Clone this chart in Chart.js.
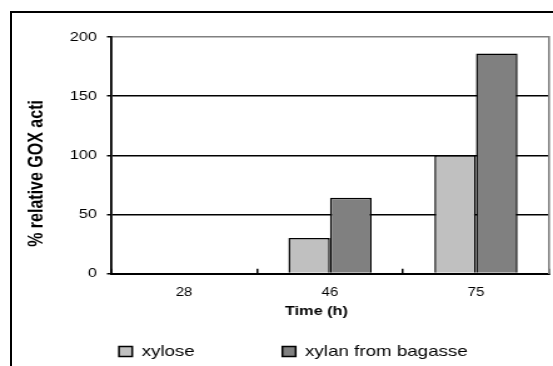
<!DOCTYPE html>
<html>
<head>
<meta charset="utf-8">
<script src="https://cdn.jsdelivr.net/npm/chart.js@4.4.1/dist/chart.umd.min.js"></script>
<style>
  html, body { margin: 0; padding: 0; width: 553px; height: 366px; overflow: hidden; background: #fff; }
  .frame { position: absolute; left: 10px; top: 11px; width: 600px; height: 400px;
           border-left: 2px solid #000; border-top: 2px solid #000; }
  .stretch { position: absolute; left: 0; top: 0; transform: scaleX(1.2511); transform-origin: 0 0; }
</style>
</head>
<body>
<div class="frame"></div>
<div class="stretch">
  <canvas id="myChart" width="470" height="366" style="width:470px;height:366px"></canvas>
</div>
<script>
var categories = ['28', '46', '75'];
var seriesNames = ['xylose', 'xylan from bagasse'];
var xylose = [0, 30, 100];
var xylan = [0, 64, 186];
var yTicks = [0, 50, 100, 150, 200];
var xTitle = 'Time (h)';
var yTitle = '% relative GOX acti';

var font = 'Liberation Sans, Arial, sans-serif';

var ctx = document.getElementById('myChart');
var myChart = new Chart(ctx, {
  type: 'bar',
  data: {
    labels: categories,
    datasets: [
      { label: seriesNames[0], data: xylose, backgroundColor: '#c0c0c0', borderColor: '#000', borderWidth: 1.5 },
      { label: seriesNames[1], data: xylan, backgroundColor: '#808080', borderColor: '#000', borderWidth: 1.5 }
    ]
  },
  options: {
    responsive: false,
    animation: false,
    devicePixelRatio: 1,
    categoryPercentage: 0.57,
    barPercentage: 1.0,
    layout: { padding: { left: 25.1, top: 37, right: 0, bottom: 0 } },
    plugins: {
      tooltip: { enabled: false },
      legend: {
        position: 'bottom',
        align: 'start',
        maxHeight: 92,
        labels: {
          color: '#000',
          font: { family: font, size: 15 },
          boxWidth: 10.6,
          boxHeight: 10,
          padding: 70
        }
      }
    },
    scales: {
      x: {
        grid: { offset: true, drawOnChartArea: false, color: '#000', lineWidth: 1.5, tickLength: -4.7 },
        border: { color: '#000', width: 2 },
        // mirror keeps the labels from being clipped to the thin axis box
        ticks: { color: '#000', font: { family: font, size: 12 }, padding: -26.5, mirror: true },
        title: { display: true, text: xTitle + '      ', color: '#000', font: { family: font, size: 13, weight: 'bold' },
                 padding: { top: 0, bottom: -45.3 } },
        afterFit: function(s) { s.height = 0.5; }
      },
      y: {
        min: 0,
        max: 200,
        afterBuildTicks: function(s) { s.ticks = yTicks.map(function(v) { return { value: v }; }); },
        grid: {
          color: function(c) { return c.tick && c.tick.value === 200 ? '#808080' : '#000'; },
          tickColor: '#000',
          lineWidth: 1.5,
          tickLength: 3.2
        },
        border: { color: '#000', width: 1.8 },
        ticks: { color: '#000', font: { family: font, size: 13 }, padding: 8 },
        title: { display: true, align: 'start', text: '      ' + yTitle, color: '#000',
                 font: { family: font, size: 16, weight: 'bold' }, padding: { top: -5, bottom: 0 } },
        afterFit: function(s) { s.width = 63.6; }
      },
      y2: {
        position: 'right',
        grid: { display: false },
        ticks: { display: false },
        border: { color: '#808080', width: 1.6 },
        afterFit: function(s) { s.width = 31.2; }
      }
    }
  }
});
</script>
</body>
</html>
